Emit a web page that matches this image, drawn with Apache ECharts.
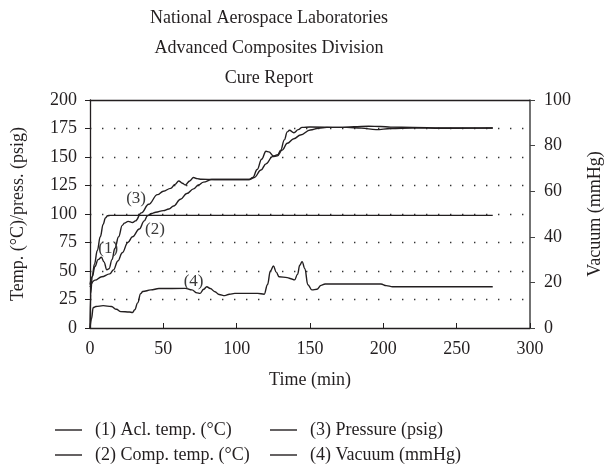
<!DOCTYPE html>
<html><head><meta charset="utf-8">
<script src="https://cdn.jsdelivr.net/npm/echarts@6/dist/echarts.min.js"></script>
<style>html,body{margin:0;padding:0;background:#fff}#c{width:612px;height:468px}</style>
</head><body><div id="c"></div>
<script>
// ---------------- data ----------------
const titleLines = ['National Aerospace Laboratories', 'Advanced Composites Division', 'Cure Report'];
const seriesNames = ['(1) Acl. temp. (°C)', '(2) Comp. temp. (°C)', '(3) Pressure (psig)', '(4) Vacuum (mmHg)'];
const xAxisName = 'Time (min)';
const leftAxisName = 'Temp. (°C)/press. (psig)';
const rightAxisName = 'Vacuum (mmHg)';
const xRange = [0, 300, 50];
const leftRange = [0, 200, 25];
const rightRange = [0, 100, 20];

// time (min), value
const aclTemp = [[0,38],[1.5,45],[3.4,54],[5.5,60],[7.8,62],[9.5,58],[11.5,51],[13,52],[15,60],[17,70],[19.5,80],[22,90],[23.5,92],[26,93.5],[29,92.5],[31,94],[35,101],[40,108.5],[46,117],[50,120],[55,122.5],[58,126],[60.5,129],[63,127],[65,125.4],[68,129],[70.6,132],[73,131],[76,130.5],[85,130.3],[100,130.3],[108.5,130.3],[111,132],[114,139],[117,148],[120,155],[122,154.5],[125,151],[128,152],[130,156],[132.5,165],[134.5,172],[136,173.5],[139,171.3],[142,174],[144.6,176],[150,176.3],[170,176],[180,176.5],[190,177],[198,176.8],[205,176.2],[220,176],[240,175.5],[260,175.5],[274.6,175.5]];
const compTemp = [[0,36],[3.4,42],[8,45],[13.5,47.5],[16,51],[19,58.8],[22,66],[25.8,75],[29,80],[33.6,86.8],[37,94],[39.2,98.5],[42,100.5],[44.8,101.5],[50,103],[53.8,104.4],[57,107],[61.7,113],[66,118],[70.6,122],[74,125.5],[77.4,128],[83,130.3],[100,130.3],[109,130.3],[112,132],[116.6,138.6],[120,144],[124.4,150.3],[127.8,151],[131,156],[134.5,162],[139,166],[143.5,169.3],[150.2,173.7],[155.8,175.2],[161.5,176],[175,176],[185,175.3],[195,174],[205,175],[220,175.5],[240,175.2],[260,175.3],[274.6,175.5]];
const pressure = [[0,0],[0.5,30],[1.5,45],[3,56],[5,68],[7,80],[9,91],[10.5,96.5],[12,98.5],[14,98.8],[50,98.8],[100,98.8],[200,98.8],[274.6,98.8]];
const vacuum = [[0,0],[1,4],[2.2,9],[4,9.4],[9,9.8],[14.6,9.4],[18,8.2],[21,7.2],[26.9,7],[29,6.8],[30.5,8],[32.5,11],[34.5,15],[36,16],[41.5,16.7],[47,17.3],[65,17.4],[69.5,16.7],[73,15.4],[75.1,15.2],[77.5,17],[79.6,18.1],[82,17.3],[85.2,15.9],[88,14.7],[91.9,14.2],[95,14.8],[98.7,15.2],[114.3,15.2],[118.8,14.8],[121,19],[123,25],[125.1,27.2],[127,24.5],[128.9,22.5],[134.5,22.1],[137,21.6],[139.5,21.1],[141.5,23.5],[143,27.5],[144.6,29.1],[146.5,26],[148.5,19],[151.3,16.7],[154.7,17],[157.5,18.7],[160.3,19.3],[181.6,19.3],[198.4,19.3],[202,18.6],[206.3,18.1],[240,18.1],[274.6,18.1]];
// curve tags: text, time, value, axis (0 = left, 1 = right)
const curveTags = [['(1)', 12.4, 70, 0], ['(2)', 44.3, 86, 0], ['(3)', 31.4, 113.8, 0], ['(4)', 70.6, 20.3, 1]];

// ---------------- chart ----------------
const FONT = '"Liberation Serif", "Times New Roman", serif';
const INK = '#231f20';
const chart = echarts.init(document.getElementById('c'), null, {renderer: 'canvas'});

function lineSeries(name, data, yIdx, tags) {
  return {
    name, type: 'line', data, yAxisIndex: yIdx, xAxisIndex: 0,
    showSymbol: false, symbol: 'none', smooth: 0.4, smoothMonotone: 'x',
    lineStyle: {color: INK, width: 1.4}, itemStyle: {color: INK},
    animation: false, silent: true,
    markPoint: tags.length ? {
      symbol: 'circle', symbolSize: 0, silent: true, animation: false,
      label: {show: true, position: 'inside', formatter: p => p.name, color: '#3a3a3a', fontSize: 17, fontFamily: FONT},
      data: tags.map(t => ({name: t[0], coord: [t[1], t[2]]}))
    } : undefined
  };
}

const leftTags = curveTags.filter(t => t[3] === 0);
const rightTags = curveTags.filter(t => t[3] === 1);

function legendItem(name, left, top) {
  return {
    orient: 'horizontal', left, top, itemWidth: 27, itemHeight: 1.4, icon: 'rect',
    textStyle: {fontSize: 18, fontFamily: FONT, color: INK, padding: [0, 0, 0, 8]},
    selectedMode: false, data: [name], padding: 0
  };
}

chart.setOption({
  animation: false,
  backgroundColor: '#fff',
  graphic: titleLines.map((t, i) => ({
    type: 'text', x: 269, y: 18 + i * 30,
    style: {text: t, align: 'center', verticalAlign: 'middle', fontSize: 18, fontFamily: FONT, fill: INK}
  })),
  legend: [
    legendItem(seriesNames[0], 55, 421),
    legendItem(seriesNames[1], 55, 446),
    legendItem(seriesNames[2], 270, 421),
    legendItem(seriesNames[3], 270, 446)
  ],
  grid: {left: 90, right: 76, top: 100, bottom: 140, containLabel: false},
  xAxis: [{
    type: 'value', min: xRange[0], max: xRange[1], interval: xRange[2], position: 'bottom',
    name: xAxisName, nameLocation: 'middle', nameGap: 43,
    nameTextStyle: {fontSize: 18, fontFamily: FONT, color: INK},
    axisLine: {show: true, onZero: false, lineStyle: {color: INK, width: 1.3}},
    axisTick: {show: true, inside: true, length: 5, lineStyle: {color: INK}},
    axisLabel: {fontSize: 18, fontFamily: FONT, color: INK, margin: 12},
    splitLine: {show: false}
  }, {
    type: 'value', min: xRange[0], max: xRange[1], position: 'top',
    axisLine: {show: true, onZero: false, lineStyle: {color: INK, width: 1.3}},
    axisTick: {show: false}, axisLabel: {show: false}, splitLine: {show: false}
  }],
  yAxis: [{
    type: 'value', min: leftRange[0], max: leftRange[1], interval: leftRange[2], position: 'left',
    name: leftAxisName, nameLocation: 'middle', nameRotate: 90, nameGap: 63,
    nameTextStyle: {fontSize: 18, fontFamily: FONT, color: INK},
    axisLine: {show: true, onZero: false, lineStyle: {color: INK, width: 1.3}},
    axisTick: {show: true, inside: false, length: 5, lineStyle: {color: INK}},
    axisLabel: {fontSize: 18, fontFamily: FONT, color: INK, margin: 13},
    splitLine: {show: true, showMinLine: false, showMaxLine: false,
      lineStyle: {color: '#333', width: 1.4, type: [1.4, 10.6]}}
  }, {
    type: 'value', min: rightRange[0], max: rightRange[1], interval: rightRange[2], position: 'right',
    name: rightAxisName, nameLocation: 'middle', nameRotate: 90, nameGap: 56,
    nameTextStyle: {fontSize: 18, fontFamily: FONT, color: INK},
    axisLine: {show: true, onZero: false, lineStyle: {color: '#444', width: 1.5}},
    axisTick: {show: true, inside: false, length: 5, lineStyle: {color: '#444'}},
    axisLabel: {fontSize: 18, fontFamily: FONT, color: INK, margin: 14},
    splitLine: {show: false}
  }],
  series: [
    lineSeries(seriesNames[0], aclTemp, 0, leftTags),
    lineSeries(seriesNames[1], compTemp, 0, []),
    lineSeries(seriesNames[2], pressure, 0, []),
    lineSeries(seriesNames[3], vacuum, 1, rightTags)
  ]
});
</script></body></html>
